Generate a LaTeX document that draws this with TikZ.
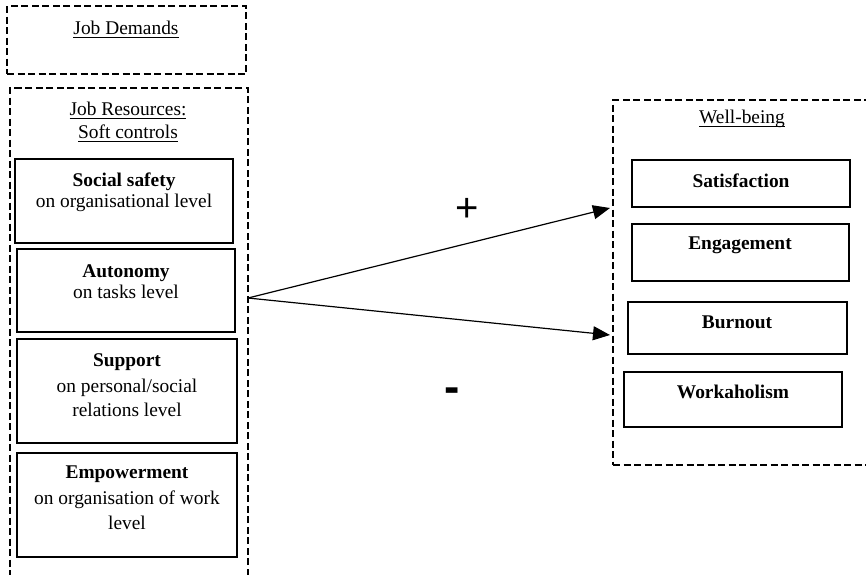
\documentclass[tikz,border=0pt]{standalone}
\usepackage{fontspec}
\setmainfont{Liberation Serif}
\newfontfamily\signfont{Liberation Sans}
\usetikzlibrary{arrows.meta,fit}
\newcommand\myul[1]{\setbox0\hbox{#1}\rlap{\rule[-3.6pt]{\wd0}{0.9pt}}\box0}
\begin{document}
\begin{tikzpicture}[x=1pt,y=-1pt,
  dashbox/.style={draw, line width=2.8pt, dash pattern=on 7pt off 3.5pt, inner sep=0pt},
  solidbox/.style={draw, line width=2.1pt, inner sep=0pt},
  txt/.style={anchor=base, inner sep=0pt, font=\fontsize{19.4}{23}\selectfont},
  btxt/.style={txt, font=\fontsize{19.4}{23}\selectfont\bfseries},
  sign/.style={anchor=base, inner sep=0pt, font=\fontsize{40}{44}\selectfont\signfont},
  conn/.style={line width=1.2pt, -{Triangle[length=17pt,width=14pt]}}]
\useasboundingbox (0,0) rectangle (866,574);
\fill[white] (0,0) rectangle (866,574);

% Job Demands
\node[dashbox, fit={(7,6) (246,74)}] (jd) {};
\node[txt] (jdt) at (126,34) {\myul{Job Demands}};

% Job Resources (open at bottom)
\node[dashbox, fit={(10,88) (248,600)}] (jr) {};
\node[txt] (jrt1) at (128,115) {\myul{Job Resources:}};
\node[txt] (jrt2) at (128,138) {\myul{Soft controls}};

\node[solidbox, fit={(15,159) (233,243)}] (ss) {};
\node[btxt] (ss1) at (124,186) {Social safety};
\node[txt] (ss2) at (124,207) {on organisational level};

\node[solidbox, fit={(17,249) (235,332)}] (au) {};
\node[btxt] (au1) at (126,277) {Autonomy};
\node[txt] (au2) at (126,298) {on tasks level};

\node[solidbox, fit={(17,339) (237,443)}] (su) {};
\node[btxt] (su1) at (127,366) {Support};
\node[txt] (su2) at (127,392) {on personal/social};
\node[txt] (su3) at (127,416) {relations level};

\node[solidbox, fit={(17,453) (237,557)}] (em) {};
\node[btxt] (em1) at (127,478) {Empowerment};
\node[txt] (em2) at (127,504) {on organisation of work};
\node[txt] (em3) at (127,529) {level};

% Well-being (open at right)
\node[dashbox, fit={(613,100) (885,465)}] (wb) {};
\node[txt] (wbt) at (742,123) {\myul{Well-being}};

\node[solidbox, fit={(632,160) (850,207)}] (sa) {};
\node[btxt] (sat) at (741,187) {Satisfaction};
\node[solidbox, fit={(632,224) (849,281)}] (en) {};
\node[btxt] (ent) at (740,249) {Engagement};
\node[solidbox, fit={(628,302) (847,354)}] (bu) {};
\node[btxt] (but) at (737,328) {Burnout};
\node[solidbox, fit={(624,372) (842,427)}] (wo) {};
\node[btxt] (wot) at (733,398) {Workaholism};

% connectors
\coordinate (src) at (248,298);
\coordinate (tgtA) at (610,208);
\coordinate (tgtB) at (610,335);
\draw[conn] (src) -- (tgtA);
\draw[conn] (src) -- (tgtB);

\node[sign] (plus) at (467,221) {+};
\node[sign, font=\fontsize{46}{50}\selectfont\signfont\bfseries] (minus) at (452,402) {-};
\end{tikzpicture}
\end{document}
